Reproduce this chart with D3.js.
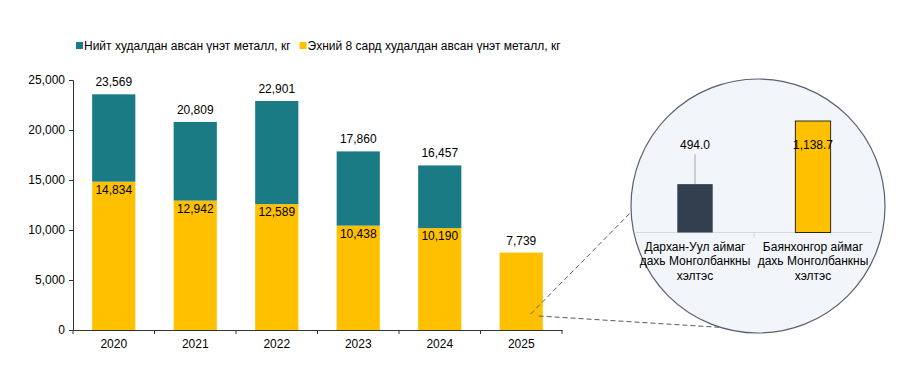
<!DOCTYPE html>
<html><head><meta charset="utf-8">
<script src="https://cdn.jsdelivr.net/npm/d3@7"></script>
<style>body{margin:0;background:#fff}svg{display:block;font-family:"Liberation Sans",Arial,sans-serif}</style>
</head><body><svg id="c" width="901" height="368"></svg>
<script>
const years = ["2020","2021","2022","2023","2024","2025"];
const totalSold = [23569, 20809, 22901, 17860, 16457, 7739];
const last8Months = [14834, 12942, 12589, 10438, 10190, 7739];
const yTicks = [0, 5000, 10000, 15000, 20000, 25000];
const legendLabels = ["Нийт худалдан авсан үнэт металл, кг", "Эхний 8 сард худалдан авсан үнэт металл, кг"];
const branchLines = [["Дархан-Уул аймаг","дахь Монголбанкны","хэлтэс"],["Баянхонгор аймаг","дахь Монголбанкны","хэлтэс"]];
const branchValues = [494.0, 1138.7];

const TEAL="#1B7B85", YEL="#FFC000", DARK="#323F4F";
const svg = d3.select("#c");
const fmt = d3.format(",");

// main chart
const x = d3.scaleBand().domain(years).range([73, 562]).paddingInner(0.47).paddingOuter(0.235);
const y = d3.scaleLinear().domain([0, 25000]).range([330, 80]);

const yAx = svg.append("g").attr("transform","translate(73,0)")
  .call(d3.axisLeft(y).tickValues(yTicks).tickSize(4).tickFormat(fmt));
yAx.selectAll("text").attr("font-size",12).attr("fill","#000").attr("dx",-1);
yAx.selectAll("line,path").attr("stroke","#333");

const xAx = svg.append("g").attr("transform","translate(0,330)")
  .call(d3.axisBottom(x).tickSize(0).tickPadding(9));
xAx.selectAll("text").attr("font-size",12).attr("fill","#000");
xAx.select("path").attr("stroke","#333");
// tick marks between categories
const bounds = d3.range(years.length+1).map(i => x.range()[0] + i*x.step());
xAx.selectAll(".bt").data(bounds).enter().append("line")
  .attr("x1",d=>d).attr("x2",d=>d).attr("y1",0).attr("y2",4).attr("stroke","#333");

const bw = x.bandwidth();
svg.append("g").selectAll("rect").data(years).enter().append("rect")
  .attr("x",d=>x(d)).attr("width",bw)
  .attr("y",(d,i)=>y(last8Months[i])).attr("height",(d,i)=>y(0)-y(last8Months[i])).attr("fill",YEL);
svg.append("g").selectAll("rect").data(years).enter().append("rect")
  .attr("x",d=>x(d)).attr("width",bw)
  .attr("y",(d,i)=>y(totalSold[i])).attr("height",(d,i)=>y(last8Months[i])-y(totalSold[i])).attr("fill",TEAL);

svg.append("g").selectAll("text").data(years).enter().append("text")
  .attr("x",d=>x(d)+bw/2).attr("y",(d,i)=>y(totalSold[i])-8)
  .attr("text-anchor","middle").attr("font-size",12).text((d,i)=>fmt(totalSold[i]));
svg.append("g").selectAll("text").data(years.filter((d,i)=>totalSold[i]!==last8Months[i])).enter().append("text")
  .attr("x",d=>x(d)+bw/2).attr("y",d=>y(last8Months[years.indexOf(d)])+12)
  .attr("text-anchor","middle").attr("font-size",12).text(d=>fmt(last8Months[years.indexOf(d)]));

// legend
const lg = svg.append("g");
let lx = 76;
legendLabels.forEach((t,i)=>{
  lg.append("rect").attr("x",lx).attr("y",42).attr("width",7).attr("height",7).attr("fill",i?YEL:TEAL);
  const tx = lg.append("text").attr("x",lx+8).attr("y",49.5).attr("font-size",12).text(t);
  lx = lx + 8 + tx.node().getComputedTextLength() + 9;
});

// inset circle
const cx = 758, cy = 206, r = 127;
const last = years[years.length-1];
const pt = a => [cx + r*Math.cos(a), cy + r*Math.sin(a)];
const p1 = pt(Math.PI*0.985), p2 = pt(Math.PI*0.595);
svg.append("line").attr("x1",x(last)+31).attr("y1",y(1600)).attr("x2",p1[0]).attr("y2",p1[1])
  .attr("stroke","#595959").attr("stroke-dasharray","5,3");
svg.append("line").attr("x1",x(last)+39).attr("y1",y(1400)).attr("x2",p2[0]).attr("y2",p2[1])
  .attr("stroke","#595959").attr("stroke-dasharray","5,3");
svg.append("circle").attr("cx",cx).attr("cy",cy).attr("r",r).attr("fill","#F2F5FA").attr("stroke","#5A6070").attr("stroke-width",1.2);

const bx = d3.scaleBand().domain(branchLines.map(d=>d[0])).range([636, 872]).paddingInner(0.70).paddingOuter(0.35);
const by = d3.scaleLinear().domain([0, 1200]).range([232.5, 115]);
const ib = svg.append("g");
ib.append("line").attr("x1",636).attr("x2",872).attr("y1",by(0)).attr("y2",by(0)).attr("stroke","#D9D9D9");
ib.append("line").attr("x1",754).attr("x2",754).attr("y1",by(0)).attr("y2",by(0)+5).attr("stroke","#D9D9D9");
ib.selectAll("rect").data(branchLines).enter().append("rect")
  .attr("x",d=>bx(d[0])).attr("width",bx.bandwidth())
  .attr("y",(d,i)=>by(branchValues[i])).attr("height",(d,i)=>by(0)-by(branchValues[i]))
  .attr("fill",(d,i)=>i?YEL:DARK).attr("stroke",(d,i)=>i?"#000":"none").attr("stroke-width",0.8);
// leader for first label
ib.append("line").attr("x1",bx(branchLines[0][0])+bx.bandwidth()/2).attr("x2",bx(branchLines[0][0])+bx.bandwidth()/2)
  .attr("y1",by(900)+10).attr("y2",by(branchValues[0])).attr("stroke","#A6A6A6");
ib.selectAll(".vl").data(branchLines).enter().append("text")
  .attr("x",d=>bx(d[0])+bx.bandwidth()/2).attr("y",by(900)+4.5)
  .attr("text-anchor","middle").attr("font-size",12).text((d,i)=>d3.format(",.1f")(branchValues[i]));
branchLines.forEach(lines=>{
  lines.forEach((ln,j)=>{
    ib.append("text").attr("x",bx(lines[0])+bx.bandwidth()/2).attr("y",by(0)+18+j*14.5)
      .attr("text-anchor","middle").attr("font-size",12).text(ln);
  });
});
</script></body></html>
